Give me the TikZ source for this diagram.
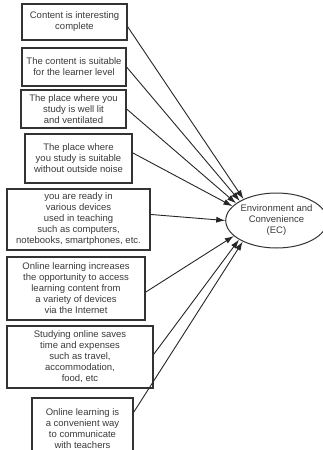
\documentclass[tikz,border=0pt]{standalone}
\usepackage{fontspec}
\setmainfont{Liberation Sans}
\usetikzlibrary{arrows.meta,shapes.geometric}
\definecolor{boxline}{HTML}{333333}
\definecolor{boxtext}{HTML}{3A3A3A}

\begin{document}
\begin{tikzpicture}[x=1pt, y=-1pt,
        item/.style={draw=boxline, line width=1.2pt, text=boxtext, align=center,
            inner sep=0pt, font=\fontsize{9.5}{11}\selectfont},
        factor/.style={ellipse, draw=boxline, line width=1pt, text=boxtext, align=center,
            inner sep=0pt, minimum width=93pt, minimum height=55pt,
            font=\fontsize{9.5}{11}\selectfont},
        path/.style={-{Latex[length=9pt,width=6pt]}, line width=0.9pt, draw=black!85}]
        \useasboundingbox (0,0) rectangle (323,450);

        \node[item, minimum width=105pt, minimum height=36pt] (c1) at (74.5,22) {Content is interesting\\complete};
        \node[item, minimum width=104pt, minimum height=38pt] (c2) at (74,67) {The content is suitable\\for the learner level};
        \node[item, minimum width=105pt, minimum height=38pt] (c3) at (73.5,109) {The place where you\\study is well lit\\and ventilated};
        \node[item, minimum width=107pt, minimum height=49pt] (c4) at (78.5,158.5) {The place where\\you study is suitable\\without outside noise};
        \node[item, minimum width=143pt, minimum height=61pt] (c5) at (78.5,219.5) {you are ready in\\various devices\\used in teaching\\such as computers,\\notebooks, smartphones, etc.};
        \node[item, minimum width=138pt, minimum height=63pt] (c6) at (76,288.5) {Online learning increases\\the opportunity to access\\learning content from\\a variety of devices\\via the Internet};
        \node[item, minimum width=146pt, minimum height=62pt] (c7) at (80,357) {Studying online saves\\time and expenses\\such as travel,\\accommodation,\\food, etc};
        \node[item, minimum width=101pt, minimum height=62pt] (c8) at (82.5,429) {Online learning is\\a convenient way\\to communicate\\with teachers};

        \node[factor] (ec) at (276.5,220.5) {Environment and\\Convenience\\(EC)};

        \draw[path] (c1.-5) -- (ec.147);
        \draw[path] (c2.east) -- (ec.152);
        \draw[path] (c3.east) -- (ec.157);
        \draw[path] (c4.6) -- (ec.162);
        \draw[path] (c5.4) -- (ec.180);
        \draw[path] (c6.-3) -- (ec.200);
        \draw[path] (c7.2) -- (ec.207);
        \draw[path] (c8.18) -- (ec.212);
    \end{tikzpicture}
\end{document}
